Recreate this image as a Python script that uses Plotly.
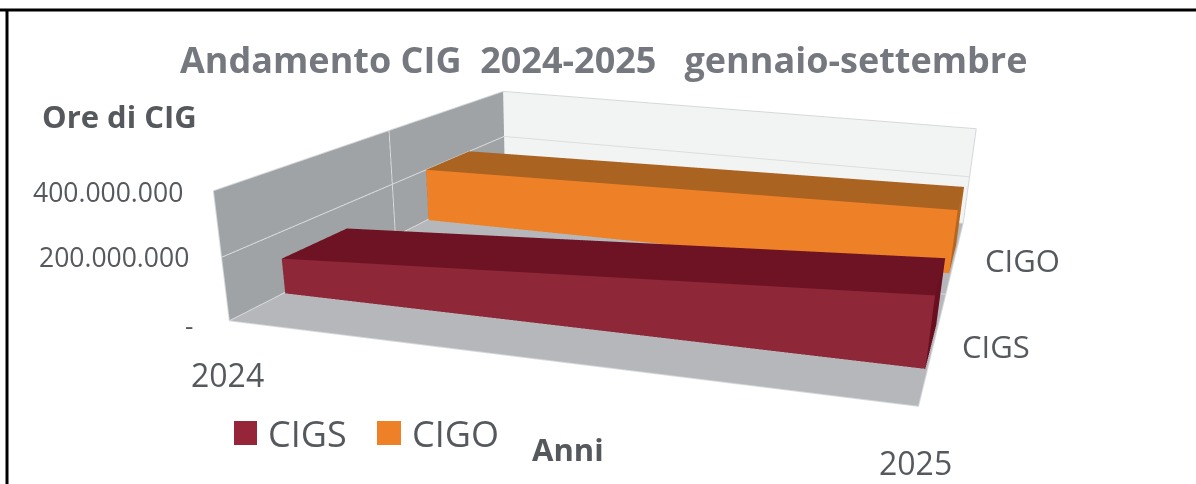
import plotly.graph_objects as go

years = [2024, 2025]
series_names = ["CIGS", "CIGO"]
cigs_values = [117.2e6, 225.4e6]
cigo_values = [203.1e6, 237.3e6]
z_ticks = [0, 200e6, 400e6]
z_labels = ["-", "200.000.000", "400.000.000"]
title_text = "Andamento CIG  2024-2025   gennaio-settembre"
z_title = "Ore di CIG"
x_title = "Anni"

# The reference is an off-centre perspective view: the figure is larger than the
# window so that the optical centre of the scene falls where the reference has it.
FIG_W, FIG_H = 1356, 1054
px = lambda x: x / FIG_W
py = lambda y: 1 - y / FIG_H

x_range = [2023.997, 2025.003]
y_range = [0, 1]
z_range = [0, 400e6]
cigs_depth = (0.139, 0.332)
cigo_depth = (0.626, 0.817)
FONT = "Open Sans"
TEXT = "#55585c"


def box(vals, depth, front, top, side, name):
    x0, x1 = years
    y0, y1 = depth
    v0, v1 = vals
    X = [x0, x1, x1, x0, x0, x1, x1, x0]
    Y = [y0, y0, y1, y1, y0, y0, y1, y1]
    Z = [0, 0, 0, 0, v0, v1, v1, v0]
    I = [0, 0, 4, 4, 1, 1, 3, 3, 0, 0]
    J = [1, 5, 5, 6, 2, 6, 2, 6, 3, 7]
    K = [5, 4, 6, 7, 6, 5, 6, 7, 7, 4]
    FC = [front, front, top, top, side, side, side, side, side, side]
    return go.Mesh3d(x=X, y=Y, z=Z, i=I, j=J, k=K, facecolor=FC, flatshading=True, name=name,
                     showlegend=False, hoverinfo="skip",
                     lighting=dict(ambient=1, diffuse=0, specular=0, roughness=1, fresnel=0))


def label(text, x, y, size, bold=False, color=TEXT):
    return dict(text=("<b>%s</b>" % text) if bold else text, x=px(x), y=py(y), xref="paper", yref="paper",
                showarrow=False, xanchor="center", yanchor="middle",
                font=dict(family=FONT, size=size, color=color))


def rect(x0, y0, x1, y1, color):
    return dict(type="rect", xref="paper", yref="paper", x0=px(x0), x1=px(x1), y0=py(y0), y1=py(y1),
                fillcolor=color, line=dict(width=0))


annotations = [
    label(title_text, 603, 60, 36, True, "#75787f"),
    label(z_title, 119, 116, 31, True),
    label(z_labels[2], 108, 192, 26.5),
    label(z_labels[1], 114, 257, 26.5),
    label(z_labels[0], 189, 325, 26),
    label(str(years[0]), 227, 375, 32),
    label(str(years[1]), 915, 462, 32),
    label(series_names[1], 1022, 260, 31),
    label(series_names[0], 996, 346, 31),
    label(series_names[0], 307, 433, 36),
    label(series_names[1], 455, 433, 36),
    label(x_title, 568, 449, 31, True),
]
shapes = [
    rect(234, 421, 257, 445, "#97253a"),
    rect(377, 421, 401, 445, "#ee8127"),
    dict(type="line", xref="paper", yref="paper", x0=0, x1=px(1196), y0=py(10), y1=py(10), line=dict(color="black", width=3)),
    dict(type="line", xref="paper", yref="paper", x0=px(7), x1=px(7), y0=py(10), y1=py(484), line=dict(color="black", width=3)),
]

axis_common = dict(showticklabels=False, title="", zeroline=False, showline=True, linecolor="#d5d8da",
                   linewidth=2, mirror=True, showbackground=True, ticks="", showspikes=False)
fig = go.Figure([
    box(cigs_values, cigs_depth, "#8e2738", "#6e1324", "#6a0f20", series_names[0]),
    box(cigo_values, cigo_depth, "#ee8127", "#ab6322", "#b5661f", series_names[1]),
])
fig.update_layout(
    width=FIG_W, height=FIG_H, margin=dict(l=0, r=0, t=0, b=0), paper_bgcolor="white", showlegend=False,
    scene=dict(
        domain=dict(x=[0, 1], y=[0, 1]), aspectmode="manual", aspectratio=dict(x=1, y=1.0995, z=0.1878), dragmode="orbit",
        camera=dict(eye=dict(x=0.5596, y=-2.1340, z=0.4924), center=dict(x=0.0567, y=0, z=-0.6019),
                    up=dict(x=-0.0377, y=-0.0089, z=1)),
        xaxis=dict(range=x_range, showgrid=False, backgroundcolor="#a0a3a6", **axis_common),
        yaxis=dict(range=y_range, tickvals=[0.5], showgrid=True, gridcolor="#dddddd", backgroundcolor="#f2f3f3", **axis_common),
        zaxis=dict(range=z_range, tickvals=z_ticks, gridcolor="#dddddd", backgroundcolor="#b5b7ba", **axis_common),
    ),
    annotations=annotations, shapes=shapes,
)
fig.write_html("out.html", config=dict(displayModeBar=False),
               post_script="document.body.style.margin='0';document.body.style.overflow='hidden';document.documentElement.style.overflow='hidden';")
